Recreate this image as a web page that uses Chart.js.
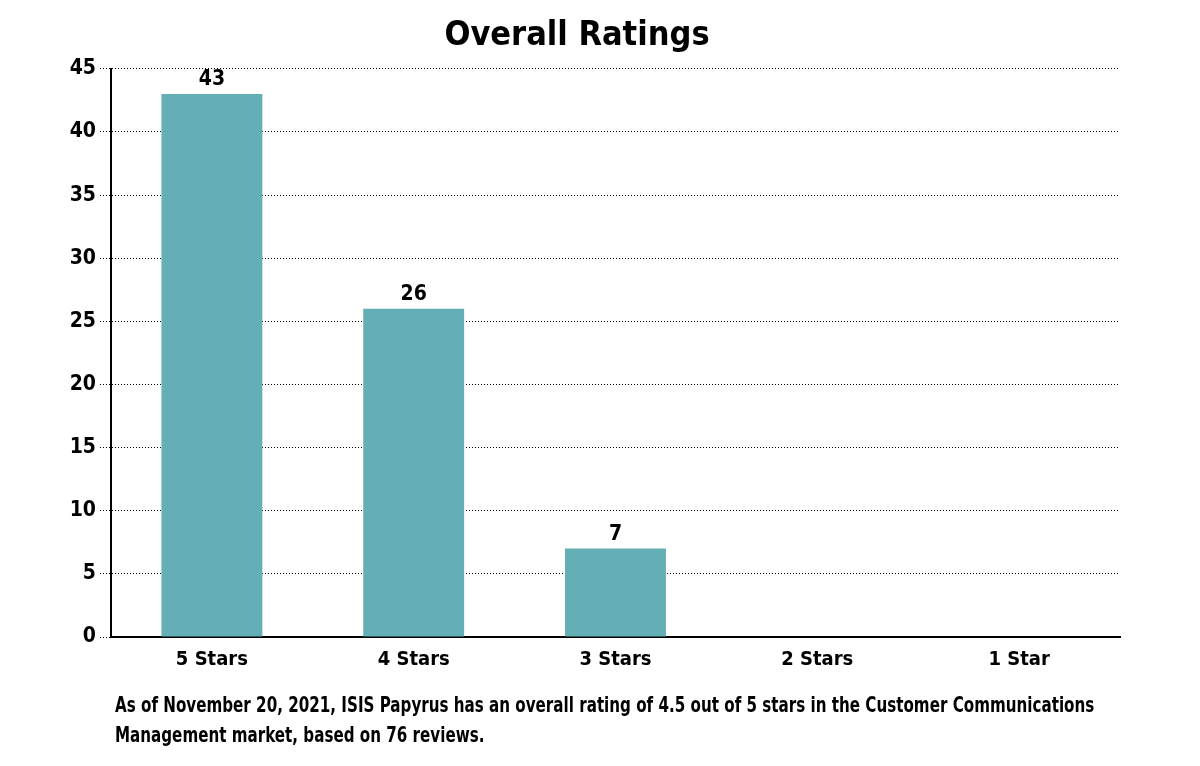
<!DOCTYPE html>
<html>
<head>
<meta charset="utf-8">
<script src="https://cdn.jsdelivr.net/npm/chart.js@4/dist/chart.umd.min.js"></script>
<style>
  html, body { margin: 0; padding: 0; background: #fff; }
  #wrap { position: relative; width: 1200px; height: 766px; }
  #note { position: absolute; left: 115px; top: 690px; width: 1300px;
          font-family: 'Liberation Sans Narrow', 'DejaVu Sans Condensed', 'Roboto', sans-serif;
          font-weight: bold; font-size: 22px; line-height: 30px; color: #000;
          transform: scaleX(0.765); transform-origin: left top; white-space: nowrap; }
</style>
</head>
<body>
<div id="wrap">
  <canvas id="c" width="1200" height="766"></canvas>
  <div id="note">As of November 20, 2021, ISIS Papyrus has an overall rating of 4.5 out of 5 stars in the Customer Communications<br>Management market, based on 76 reviews.</div>
</div>
<script>
const categories = ['5 Stars', '4 Stars', '3 Stars', '2 Stars', '1 Star'];
const ratingCounts = [43, 26, 7, 0, 0];
const chartTitle = 'Overall Ratings';

const FONT = "'Liberation Sans Narrow', 'DejaVu Sans Condensed', 'Roboto', sans-serif";

const valueLabels = {
  id: 'valueLabels',
  afterDatasetsDraw(chart) {
    const ctx = chart.ctx;
    const meta = chart.getDatasetMeta(0);
    ctx.save();
    ctx.font = 'bold 21px ' + FONT;
    ctx.fillStyle = '#000';
    ctx.textAlign = 'center';
    ctx.textBaseline = 'bottom';
    meta.data.forEach((bar, i) => {
      const v = chart.data.datasets[0].data[i];
      if (v > 0) ctx.fillText(String(v), bar.x, bar.y - 4);
    });
    ctx.restore();
  }
};

new Chart(document.getElementById('c'), {
  type: 'bar',
  data: {
    labels: categories,
    datasets: [{
      data: ratingCounts,
      backgroundColor: '#63afb5',
      barPercentage: 0.5,
      categoryPercentage: 1.0
    }]
  },
  options: {
    responsive: false,
    animation: false,
    layout: { padding: { left: 34, right: 80, top: 0, bottom: 0 } },
    plugins: {
      legend: { display: false },
      tooltip: { enabled: false },
      title: {
        display: true,
        text: chartTitle,
        color: '#000',
        font: { family: FONT, size: 34, weight: 'bold' },
        padding: { top: 16, bottom: 12 }
      }
    },
    scales: {
      x: {
        grid: { display: false },
        border: { display: true, color: '#000', width: 2 },
        ticks: { color: '#000', font: { family: FONT, size: 20, weight: 'bold' }, padding: 3 },
        afterFit(scale) { scale.height = 129; }
      },
      y: {
        min: 0, max: 45,
        ticks: { stepSize: 5, color: '#000', font: { family: FONT, size: 21, weight: 'bold' }, padding: 4 },
        grid: { color: '#000', lineWidth: 1, tickLength: 11, drawTicks: true,
                tickBorderDash: [1, 2], tickColor: '#000' },
        border: { display: true, color: '#000', width: 2, dash: [1, 2] },
        afterFit(scale) { scale.width = 77; }
      }
    }
  },
  plugins: [valueLabels]
});
</script>
</body>
</html>
